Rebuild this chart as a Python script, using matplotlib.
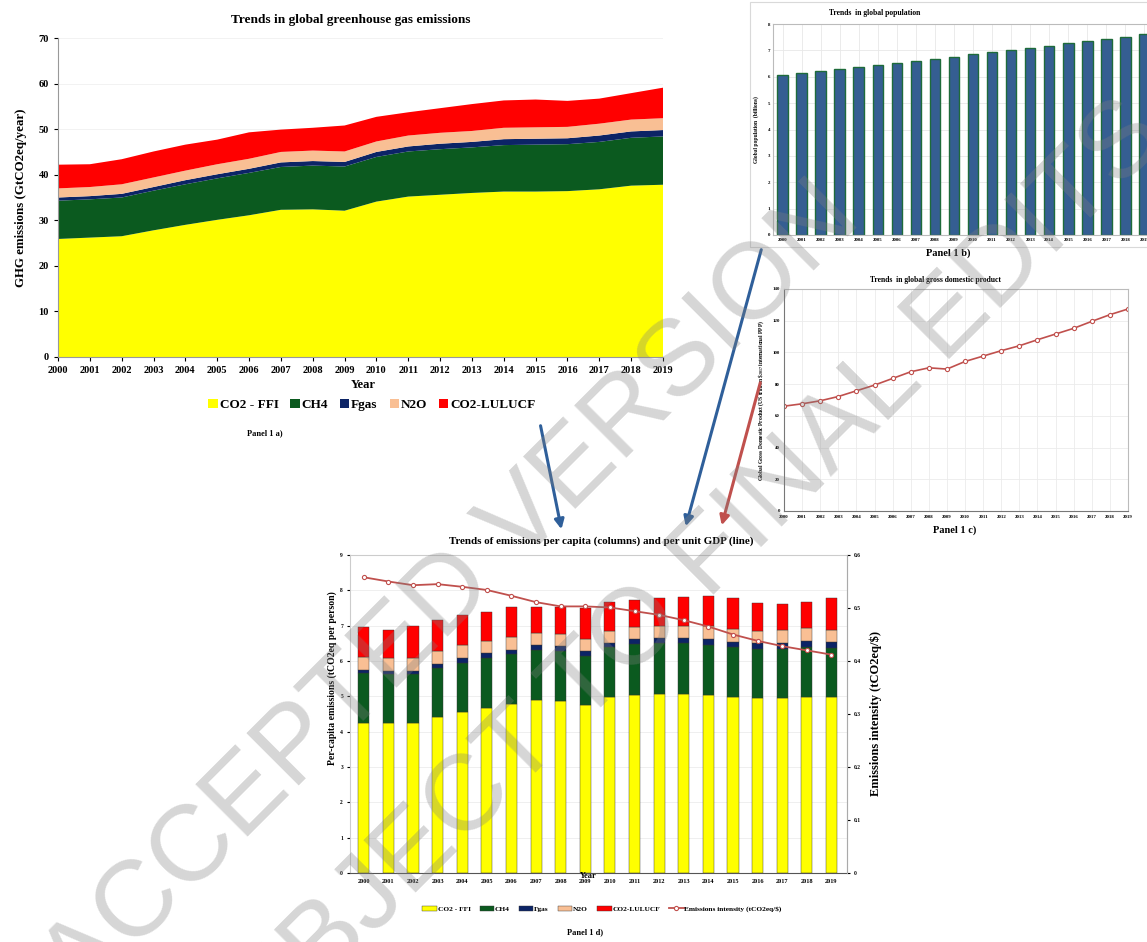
import matplotlib
matplotlib.use("Agg")
import matplotlib.pyplot as plt
import numpy as np
from matplotlib.patches import FancyArrowPatch, Rectangle

# figure size in pixels
W, H = 1147, 942

# ---- data ----
years = [str(y) for y in range(2000, 2020)]

# panel a: global GHG emissions (GtCO2eq/year)
co2_ffi = [25.9, 26.2, 26.5, 27.8, 29.0, 30.1, 31.1, 32.3, 32.4, 32.1,
           34.1, 35.2, 35.6, 36.0, 36.3, 36.3, 36.4, 36.8, 37.6, 37.8]
ch4 = [8.4, 8.4, 8.5, 8.7, 8.9, 9.1, 9.3, 9.4, 9.6, 9.7,
       9.8, 9.9, 10.0, 10.0, 10.2, 10.3, 10.3, 10.4, 10.5, 10.6]
fgas = [0.7, 0.7, 0.8, 0.8, 0.9, 0.9, 0.9, 1.0, 1.0, 1.0,
        1.1, 1.1, 1.2, 1.2, 1.3, 1.3, 1.3, 1.4, 1.4, 1.4]
n2o = [2.0, 2.0, 2.1, 2.1, 2.1, 2.2, 2.2, 2.3, 2.3, 2.3,
       2.3, 2.4, 2.4, 2.4, 2.5, 2.5, 2.5, 2.6, 2.6, 2.6]
co2_lulucf = [5.2, 5.0, 5.5, 5.7, 5.7, 5.4, 5.8, 4.9, 5.0, 5.7,
              5.4, 5.1, 5.4, 5.9, 6.0, 6.1, 5.7, 5.5, 5.8, 6.7]

# panel b: global population (billions)
population = [6.06, 6.13, 6.22, 6.30, 6.37, 6.45, 6.52, 6.61, 6.69, 6.76,
              6.85, 6.93, 7.02, 7.09, 7.18, 7.28, 7.36, 7.45, 7.52, 7.61]

# panel c: global GDP (US trillion $2017 PPP)
gdp = [66.1, 67.6, 69.5, 72.2, 75.8, 79.4, 83.6, 87.8, 90.3, 89.5,
       94.3, 97.7, 101.1, 104.2, 108.0, 111.6, 115.2, 119.6, 123.8, 127.4]

# panel d: per-capita emissions (tCO2eq per person) and intensity
pc_ffi = [4.25, 4.25, 4.25, 4.41, 4.55, 4.67, 4.77, 4.89, 4.86, 4.76,
          4.97, 5.05, 5.07, 5.07, 5.04, 4.98, 4.94, 4.95, 4.99, 4.98]
pc_ch4 = [1.40, 1.38, 1.38, 1.39, 1.40, 1.41, 1.42, 1.42, 1.42, 1.39,
          1.42, 1.42, 1.44, 1.44, 1.42, 1.41, 1.39, 1.40, 1.40, 1.38]
pc_fgas = [0.10, 0.10, 0.10, 0.12, 0.13, 0.14, 0.13, 0.13, 0.14, 0.14,
           0.13, 0.16, 0.14, 0.14, 0.17, 0.16, 0.17, 0.16, 0.18, 0.17]
pc_n2o = [0.35, 0.35, 0.35, 0.35, 0.36, 0.34, 0.35, 0.36, 0.35, 0.34,
          0.34, 0.34, 0.35, 0.35, 0.35, 0.36, 0.34, 0.36, 0.35, 0.35]
pc_lulucf = [0.85, 0.80, 0.90, 0.90, 0.87, 0.83, 0.86, 0.73, 0.76, 0.87,
             0.80, 0.75, 0.79, 0.81, 0.85, 0.88, 0.80, 0.75, 0.76, 0.89]
intensity = [0.558, 0.550, 0.543, 0.545, 0.540, 0.534, 0.523, 0.511, 0.503, 0.503,
             0.501, 0.494, 0.487, 0.477, 0.465, 0.450, 0.438, 0.428, 0.420, 0.412]

gas_names = ['CO2 - FFI', 'CH4', 'Fgas', 'N2O', 'CO2-LULUCF']
gas_colors = ['#ffff00', '#0b5a1f', '#0c2466', '#f9bf94', '#ff0000']

serif = 'Liberation Serif'
plt.rcParams['font.family'] = serif
plt.rcParams['font.weight'] = 'bold'
plt.rcParams['mathtext.fontset'] = 'custom'
plt.rcParams['mathtext.rm'] = serif
plt.rcParams['mathtext.bf'] = serif + ':bold'


def box(l, t, r, b):
    return [l / W, 1 - b / H, (r - l) / W, (b - t) / H]


def ftext(x, y, s, **kw):
    kw.setdefault('ha', 'center')
    kw.setdefault('va', 'center')
    kw.setdefault('fontweight', 'bold')
    fig.text(x / W, 1 - y / H, s, **kw)


fig = plt.figure(figsize=(W / 100, H / 100), dpi=100)
x = np.arange(len(years))

# ---- panel a ----
ax_a = fig.add_axes(box(58, 38, 663, 357))
ax_a.stackplot(x, co2_ffi, ch4, fgas, n2o, co2_lulucf, colors=gas_colors,
               labels=gas_names, linewidth=0)
ax_a.set_xlim(0, 19)
ax_a.set_ylim(0, 70)
ax_a.set_xticks(x)
ax_a.set_xticklabels(years, fontsize=7.5, fontweight='bold')
ax_a.set_yticks(range(0, 71, 10))
ax_a.tick_params(axis='y', labelsize=7.5, length=3)
ax_a.tick_params(axis='x', length=3)
for lab in ax_a.get_yticklabels():
    lab.set_fontweight('bold')
ax_a.set_ylabel('GHG emissions (GtCO2eq/year)', fontsize=9.3, fontweight='bold', labelpad=8)
ax_a.yaxis.grid(True, color='#f0f0f0', lw=0.6)
ax_a.set_axisbelow(True)
for s in ['top', 'right']:
    ax_a.spines[s].set_visible(False)
for s in ['left', 'bottom']:
    ax_a.spines[s].set_color('#999999')
ftext(351, 20, 'Trends in global greenhouse gas emissions', fontsize=9.6)
ftext(363, 385, 'Year', fontsize=9)
fig.legend(*ax_a.get_legend_handles_labels(), loc='center', ncol=5,
           bbox_to_anchor=(372 / W, 1 - 405 / H), frameon=False,
           prop={'family': serif, 'weight': 'bold', 'size': 9.5},
           handlelength=0.7, handleheight=0.7, handletextpad=0.15, columnspacing=0.9)
ftext(265, 433, 'Panel 1 a)', fontsize=6)

# ---- panel b ----
fig.add_artist(Rectangle((750 / W, 1 - 247 / H), 420 / W, 245 / H, transform=fig.transFigure,
                         fill=False, edgecolor='#d9d9d9', lw=0.8))
ax_b = fig.add_axes(box(773, 24, 1154, 235))
ax_b.bar(x, population, width=0.55, color='#355e92', edgecolor='#1e6b3a', linewidth=1)
ax_b.set_xlim(-0.5, 19.5)
ax_b.set_ylim(0, 8)
ax_b.set_xticks(x)
ax_b.set_xticklabels(years, fontsize=3.5, fontweight='bold')
ax_b.set_yticks(range(0, 9))
ax_b.tick_params(labelsize=3.5, length=0, pad=2)
ax_b.grid(True, color='#e8e8e8', lw=0.6)
ax_b.set_axisbelow(True)
for s in ax_b.spines.values():
    s.set_color('#bbbbbb')
ax_b.set_ylabel('Global population  (billions)', fontsize=4, fontweight='bold', labelpad=6)
ftext(875, 13, 'Trends  in global population', fontsize=5.5)
ftext(948, 253, 'Panel 1 b)', fontsize=7.5)

# ---- panel c ----
ax_c = fig.add_axes(box(784, 289, 1128, 511))
ax_c.plot(x, gdp, color='#c0504d', lw=1.2, marker='o', ms=3,
          markerfacecolor='white', markeredgecolor='#c0504d', markeredgewidth=0.8)
ax_c.set_xlim(0, 19)
ax_c.set_ylim(0, 140)
ax_c.set_xticks(x)
ax_c.set_xticklabels(years, fontsize=3.5, fontweight='bold')
ax_c.set_yticks(range(0, 141, 20))
ax_c.tick_params(labelsize=3.5, length=0, pad=3)
ax_c.grid(True, color='#ebebeb', lw=0.6)
ax_c.set_axisbelow(True)
for s in ax_c.spines.values():
    s.set_color('#bbbbbb')
ax_c.spines['left'].set_color('#777777')
ax_c.spines['bottom'].set_color('#777777')
ax_c.set_ylabel(r'Global Gross Domestic Product (US trillion \$$_{2017}$ international PPP)',
                fontsize=4, fontweight='bold', labelpad=5)
ftext(935, 280, 'Trends  in global gross domestic product', fontsize=5.5)
ftext(955, 530, 'Panel 1 c)', fontsize=7.5)

# ---- panel d ----
ax_d = fig.add_axes(box(350, 555, 847, 873))
bottom = np.zeros(len(years))
for vals, name, col in zip([pc_ffi, pc_ch4, pc_fgas, pc_n2o, pc_lulucf], gas_names, gas_colors):
    ax_d.bar(x, vals, bottom=bottom, width=0.45, color=col, edgecolor='#333333',
             linewidth=0.3, label=name)
    bottom += np.array(vals)
ax_d.set_xlim(-0.56, 19.63)
ax_d.set_ylim(0, 9)
ax_d.set_xticks(x)
ax_d.set_xticklabels(years, fontsize=4.5, fontweight='bold')
ax_d.set_yticks(range(0, 10))
ax_d.tick_params(axis='y', labelsize=4, length=2, pad=3)
ax_d.tick_params(axis='x', length=0, pad=4)
ax_d.yaxis.grid(True, color='#ececec', lw=0.6)
ax_d.set_axisbelow(True)
for s in ax_d.spines.values():
    s.set_color('#cccccc')
ax_d.spines['bottom'].set_color('#555555')
ftext(332, 678, 'Per-capita emissions (tCO2eq per person)', fontsize=7, rotation=90)

ax_d2 = ax_d.twinx()
ax_d2.plot(x, intensity, color='#c0504d', lw=1.3, marker='o', ms=3,
           markerfacecolor='white', markeredgecolor='#c0504d', markeredgewidth=0.8,
           label=r'Emissions intensity (tCO2eq/\$)')
ax_d2.set_ylim(0, 0.6)
ax_d2.set_yticks([0, 0.1, 0.2, 0.3, 0.4, 0.5, 0.6])
ax_d2.set_yticklabels(['0', '0.1', '0.2', '0.3', '0.4', '0.5', '0.6'])
ax_d2.tick_params(labelsize=4, length=2, pad=3)
for s in ax_d2.spines.values():
    s.set_visible(False)
ax_d2.spines['right'].set_visible(True)
ax_d2.spines['right'].set_color('#aaaaaa')
ax_d2.set_ylabel(r'Emissions intensity (tCO2eq/\$)', fontsize=9, fontweight='bold', labelpad=6)
ftext(601, 541, 'Trends of emissions per capita (columns) and per unit GDP (line)', fontsize=7.9)
ftext(588, 876, 'Year', fontsize=6)
h1, l1 = ax_d.get_legend_handles_labels()
h2, l2 = ax_d2.get_legend_handles_labels()
fig.legend(h1 + h2, l1 + l2, loc='center', ncol=6, bbox_to_anchor=(602 / W, 1 - 909 / H),
           frameon=False, prop={'family': serif, 'weight': 'bold', 'size': 5.3},
           handlelength=2.0, handleheight=0.7, handletextpad=0.1, columnspacing=1.2)
ftext(585, 932, 'Panel 1 d)', fontsize=6)

# ---- arrows ----
for (x0, y0), (x1, y1), col in [((540, 423), (562, 532), '#2f5f9a'),
                                ((762, 247), (685, 529), '#2f5f9a'),
                                ((761, 380), (721, 528), '#c0504d')]:
    fig.add_artist(FancyArrowPatch((x0 / W, 1 - y0 / H), (x1 / W, 1 - y1 / H),
                                   transform=fig.transFigure, arrowstyle='-|>',
                                   mutation_scale=14, lw=2.2, color=col))

# ---- watermark ----
wm = dict(rotation=45, rotation_mode='anchor', ha='center', va='baseline',
          fontsize=78, family='Liberation Sans', fontweight='normal',
          color='#808080', alpha=0.32, zorder=100)
fig.text(472 / W, 1 - 613 / H, 'ACCEPTED VERSION', **wm)
fig.text(692 / W, 1 - 617 / H, 'SUBJECT TO FINAL EDITS', **wm)

fig.savefig('out.png', dpi=100)
